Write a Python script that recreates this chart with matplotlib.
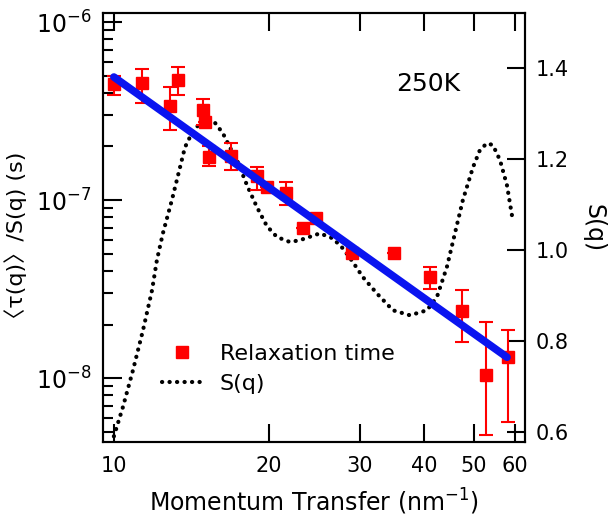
import matplotlib
matplotlib.use("Agg")
import matplotlib.pyplot as plt
from matplotlib.lines import Line2D
from matplotlib.ticker import FixedLocator, FixedFormatter, LogLocator, NullFormatter

plt.rcParams['font.family'] = ['DejaVu Sans', 'Noto Sans CJK JP']
plt.rcParams['mathtext.fontset'] = 'dejavusans'

# relaxation time data (q in nm^-1, tau/S in s)
q_data = [10.0, 11.33, 12.85, 13.31, 14.89, 15.02, 15.29, 16.87, 18.96, 19.83,
          21.56, 23.28, 24.66, 28.96, 34.97, 41.03, 47.35, 52.75, 58.22]
tau_data = [4.49e-7, 4.54e-7, 3.37e-7, 4.72e-7, 3.21e-7, 2.74e-7, 1.74e-7, 1.77e-7, 1.36e-7, 1.18e-7,
            1.09e-7, 6.96e-8, 7.92e-8, 5.04e-8, 5.04e-8, 3.69e-8, 2.38e-8, 1.04e-8, 1.31e-8]
tau_hi = [4.98e-7, 5.45e-7, 4.32e-7, 5.58e-7, 3.69e-7, 2.74e-7, 2.01e-7, 2.09e-7, 1.53e-7, 1.18e-7,
          1.26e-7, 6.96e-8, 7.92e-8, 5.04e-8, 5.04e-8, 4.20e-8, 3.12e-8, 2.06e-8, 1.86e-8]
tau_lo = [3.89e-7, 3.51e-7, 2.47e-7, 3.89e-7, 2.64e-7, 2.74e-7, 1.55e-7, 1.47e-7, 1.14e-7, 1.18e-7,
          9.37e-8, 6.96e-8, 7.92e-8, 5.04e-8, 5.04e-8, 3.16e-8, 1.59e-8, 4.78e-9, 5.66e-9]

# power-law fit line end points
q_fit = [10.0, 58.0]
tau_fit = [4.91e-7, 1.31e-8]

# structure factor S(q)
q_s = [10.00, 10.41, 10.89, 11.39, 11.86, 12.12, 12.45, 12.96, 13.44, 13.74, 14.17, 14.69,
       15.22, 15.57, 16.28, 16.80, 17.41, 18.13, 18.95, 19.82, 20.73, 21.97, 22.97, 25.12,
       26.62, 27.84, 29.11, 30.44, 32.41, 34.82, 37.57, 40.54, 42.39, 44.32, 47.6, 49.8,
       51.37, 53.0, 54.44, 56.2, 57.97, 59.5]
s_vals = [0.591, 0.655, 0.736, 0.824, 0.912, 0.978, 1.037, 1.110, 1.182, 1.226, 1.257, 1.279,
          1.290, 1.286, 1.257, 1.226, 1.193, 1.143, 1.095, 1.053, 1.029, 1.018, 1.022, 1.037,
          1.026, 1.004, 0.974, 0.941, 0.905, 0.868, 0.857, 0.868, 0.897, 0.963, 1.110, 1.182,
          1.220, 1.235, 1.231, 1.198, 1.143, 1.066]

x_ticks = [10, 20, 30, 40, 50, 60]
s_ticks = [0.6, 0.8, 1.0, 1.2, 1.4]

dot_style = (0, (0.05, 1.75))

fig = plt.figure(figsize=(6.16, 5.24), dpi=100)
ax_s = fig.add_axes([0.167, 0.156, 0.685, 0.819])
ax = ax_s.twinx()

# S(q) underneath
ax_s.plot(q_s, s_vals, color='black', lw=3.0, linestyle=dot_style,
          dash_capstyle='round')
ax_s.set_xscale('log')
ax_s.set_xlim(9.52, 62.8)
ax_s.set_ylim(0.578, 1.521)
ax_s.yaxis.tick_right()
ax_s.yaxis.set_label_position('right')
ax_s.yaxis.set_major_locator(FixedLocator(s_ticks))
ax_s.set_yticklabels(['0.6', '0.8', '1.0', '1.2', '1.4'])
ax_s.set_ylabel('S(q)', fontsize=17, rotation=270, labelpad=26)

# relaxation time on top
ax.yaxis.tick_left()
ax.yaxis.set_label_position('left')
ax.set_yscale('log')
ax.set_ylim(10 ** -8.36, 10 ** -5.95)
ax.errorbar(q_data, tau_data, yerr=[[t - l for t, l in zip(tau_data, tau_lo)],
                                    [h - t for t, h in zip(tau_data, tau_hi)]],
            fmt='s', color='red', ms=9, elinewidth=1.5, capsize=5, capthick=1.5, zorder=2)
ax.plot(q_fit, tau_fit, color='#0a14f0', lw=5.5, solid_capstyle='round', zorder=3)
ax.yaxis.set_major_locator(LogLocator(base=10))
ax.yaxis.set_minor_locator(LogLocator(base=10, subs=range(2, 10)))
ax.yaxis.set_minor_formatter(NullFormatter())
ax.set_ylabel('〈τ(q)〉/S(q) (s)', fontsize=16)
ax.yaxis.set_label_coords(-0.18, 0.47)

ax_s.xaxis.set_major_locator(FixedLocator(x_ticks))
ax_s.xaxis.set_major_formatter(FixedFormatter([str(t) for t in x_ticks]))
ax_s.xaxis.set_minor_locator(FixedLocator([]))
ax_s.set_xlabel('Momentum Transfer (nm$^{-1}$)', fontsize=17, labelpad=8)

for a in (ax, ax_s):
    for sp in a.spines.values():
        sp.set_linewidth(1.5)
ax_s.tick_params(axis='x', which='major', direction='in', length=13, width=1.5,
                 top=True, labelsize=15, pad=10)
ax_s.tick_params(axis='y', which='major', direction='in', length=13, width=1.5,
                 labelsize=15, pad=8)
ax.tick_params(axis='y', which='major', direction='in', length=14, width=1.5,
               labelsize=17, pad=8)
ax.tick_params(axis='y', which='minor', direction='in', length=7, width=1.5)

ax.text(0.77, 0.835, '250K', transform=ax.transAxes, fontsize=18,
        ha='center', va='center')

handles = [Line2D([], [], color='red', marker='s', ms=9, linestyle='none'),
           Line2D([], [], color='black', lw=3.0, linestyle=dot_style,
                  dash_capstyle='round')]
ax.legend(handles, ['Relaxation time', 'S(q)'], loc='upper left',
          bbox_to_anchor=(0.14, 0.23), frameon=False, fontsize=16,
          borderaxespad=0, borderpad=0, handlelength=1.8, handletextpad=0.8,
          labelspacing=0.45)

fig.savefig('out.png', dpi=100)
